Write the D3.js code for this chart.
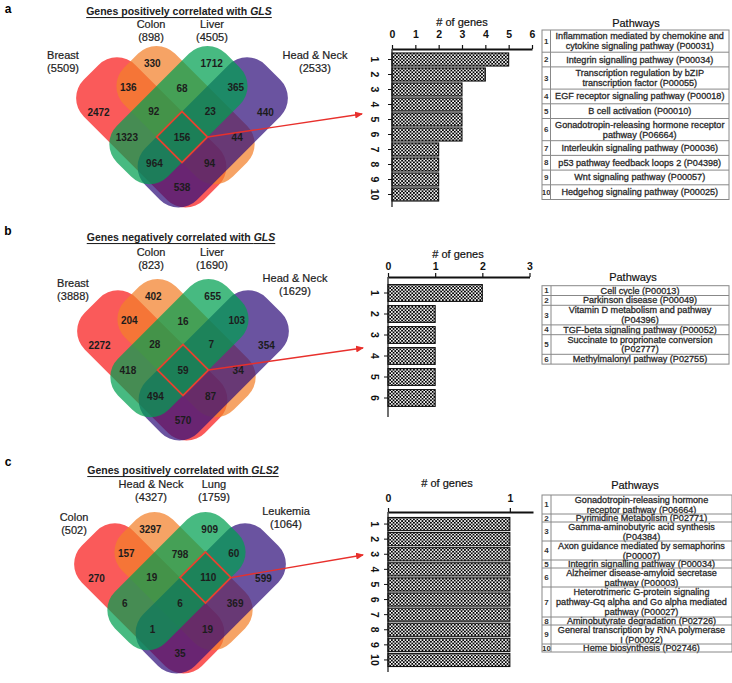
<!DOCTYPE html>
<html>
<head>
<meta charset="utf-8">
<script src="https://cdn.jsdelivr.net/npm/d3@7"></script>
<style>
  body { margin: 0; background: #fff; }
  svg text { font-family: "Liberation Sans", Arial, sans-serif; }
</style>
</head>
<body>
<div id="fig"></div>
<script>
// ---- data ----
// region order: R, O, G, P, RO, OG, GP, RG, ROG, OGP, OP, ROGP, RGP, ROP, RP
const regionKeys = ["R", "O", "G", "P", "RO", "OG", "GP", "RG", "ROG", "OGP", "OP", "ROGP", "RGP", "ROP", "RP"];

const setsA = ["Breast", "Colon", "Liver", "Head & Neck"];
const totalsA = [5509, 898, 4505, 2533];
const regionsA = [2472, 330, 1712, 440, 136, 68, 365, 1323, 92, 23, 44, 156, 964, 94, 538];
const countsA = [5, 4, 3, 3, 3, 3, 2, 2, 2, 2];
const pathwaysA = [
  "Inflammation mediated by chemokine and\ncytokine signaling pathway (P00031)",
  "Integrin signalling pathway (P00034)",
  "Transcription regulation by bZIP\ntranscription factor (P00055)",
  "EGF receptor signaling pathway (P00018)",
  "B cell activation (P00010)",
  "Gonadotropin-releasing hormone receptor\npathway (P06664)",
  "Interleukin signaling pathway (P00036)",
  "p53 pathway feedback loops 2 (P04398)",
  "Wnt signaling pathway (P00057)",
  "Hedgehog signaling pathway (P00025)"
];

const setsB = ["Breast", "Colon", "Liver", "Head & Neck"];
const totalsB = [3888, 823, 1690, 1629];
const regionsB = [2272, 402, 655, 354, 204, 16, 103, 418, 28, 7, 34, 59, 494, 87, 570];
const countsB = [2, 1, 1, 1, 1, 1];
const pathwaysB = [
  "Cell cycle (P00013)",
  "Parkinson disease (P00049)",
  "Vitamin D metabolism and pathway\n(P04396)",
  "TGF-beta signaling pathway (P00052)",
  "Succinate to proprionate conversion\n(P02777)",
  "Methylmalonyl pathway (P02755)"
];

const setsC = ["Colon", "Head & Neck", "Lung", "Leukemia"];
const totalsC = [502, 4327, 1759, 1064];
const regionsC = [270, 3297, 909, 599, 157, 798, 60, 6, 19, 110, 369, 6, 1, 19, 35];
const countsC = [1, 1, 1, 1, 1, 1, 1, 1, 1, 1];
const pathwaysC = [
  "Gonadotropin-releasing hormone\nreceptor pathway (P06664)",
  "Pyrimidine Metabolism (P02771)",
  "Gamma-aminobutyric acid synthesis\n(P04384)",
  "Axon guidance mediated by semaphorins\n(P00007)",
  "Integrin signalling pathway (P00034)",
  "Alzheimer disease-amyloid secretase\npathway (P00003)",
  "Heterotrimeric G-protein signaling\npathway-Gq alpha and Go alpha mediated\npathway (P00027)",
  "Aminobutyrate degradation (P02726)",
  "General transcription by RNA polymerase\nI (P00022)",
  "Heme biosynthesis (P02746)"
];

// ---- venn geometry (rotated frame: p runs down-right, q runs up-right) ----
const shapes = [
  {key: "R", p: [-110, 60], q: [-55, 18], color: "#f81a1a"},
  {key: "O", p: [-90, 64], q: [-18, 54], color: "#f2802a"},
  {key: "P", p: [-18, 55], q: [-60, 110], color: "#30117b"},
  {key: "G", p: [-54, 18], q: [-64, 90], color: "#00a050"}
];
const labelPQ = {
  R: [-76, -42], O: [-73, 31], G: [-31, 73], P: [42, 76],
  RO: [-73, -3], OG: [-34, 34], GP: [3, 73], RG: [-39, -39],
  ROG: [-38, -2], OGP: [2, 38], OP: [39, 39], ROGP: [0, 0],
  RGP: [-1, -38], ROP: [38, 1], RP: [36, -36]
};
const cellPQ = {ROGP: {p: [-18, 18], q: [-18, 18]}, OGP: {p: [-18, 18], q: [18, 54]}};

const panels = [
  {
    letter: "a", letterPos: [8, 9], title: ["Genes positively correlated with ", "GLS"], titlePos: [179, 11],
    venn: {cx: 182, cy: 137}, sets: setsA, totals: totalsA, regions: regionsA, highlight: "ROGP",
    setPos: [[-119, -82], [-31, -113], [30, -113], [133, -82]],
    bars: {x0: 392, x1: 532, xMax: 6, ticks: [0, 1, 2, 3, 4, 5, 6], axisY: 49, yTop: 52, yBot: 202, yEnd: 207,
           pad: 0.13, tickPad: 7, labelOff: 17, titleX: 462, titleY: 22},
    counts: countsA, pathways: pathwaysA,
    table: {x0: 542, x1: 729, numW: 8.5, y0: 30, base: 14.7, extra: 7.5, ls: 10, headX: 636, headY: 23},
    arrowEnd: [362, 114]
  },
  {
    letter: "b", letterPos: [8, 231], title: ["Genes negatively correlated with ", "GLS"], titlePos: [181, 237],
    venn: {cx: 183, cy: 370}, sets: setsB, totals: totalsB, regions: regionsB, highlight: "ROGP",
    setPos: [[-110, -87], [-32, -118], [29, -118], [112, -92]],
    bars: {x0: 388, x1: 529.5, xMax: 3, ticks: [0, 1, 2, 3], axisY: 277, yTop: 282.5, yBot: 408.5, yEnd: 417,
           pad: 0.2, tickPad: 3, labelOff: 13, titleX: 458, titleY: 254},
    counts: countsB, pathways: pathwaysB,
    table: {x0: 542, x1: 729, numW: 9, y0: 285.7, base: 9.8, extra: 9.8, ls: 9.6, headX: 633, headY: 277},
    arrowEnd: [363, 348]
  },
  {
    letter: "c", letterPos: [8, 462], title: ["Genes positively correlated with ", "GLS2"], titlePos: [183, 470],
    venn: {cx: 180, cy: 603}, sets: setsC, totals: totalsC, regions: regionsC, highlight: "OGP",
    setPos: [[-106, -86], [-29, -119], [34, -119], [106, -92]],
    bars: {x0: 388, x1: 533, xMax: 1.19, ticks: [0, 1], axisY: 512, yTop: 516.5, yBot: 667.5, yEnd: 672,
           pad: 0.13, tickPad: 6, labelOff: 13, titleX: 447, titleY: 483},
    counts: countsC, pathways: pathwaysC,
    table: {x0: 542, x1: 732, numW: 9, y0: 495, base: 8, extra: 11, ls: 10, headX: 635, headY: 485},
    arrowEnd: [363, 555]
  }
];

const svg = d3.select("#fig").append("svg")
    .attr("width", 732)
    .attr("height", 683);

const defs = svg.append("defs");
const pat = defs.append("pattern")
    .attr("id", "checker")
    .attr("patternUnits", "userSpaceOnUse")
    .attr("width", 3.4).attr("height", 3.4);
pat.append("rect").attr("width", 3.4).attr("height", 3.4).attr("fill", "#fff");
pat.append("rect").attr("width", 1.8).attr("height", 1.8).attr("fill", "#000");
pat.append("rect").attr("x", 1.7).attr("y", 1.7).attr("width", 1.8).attr("height", 1.8).attr("fill", "#000");

defs.append("marker")
    .attr("id", "arrow")
    .attr("markerUnits", "userSpaceOnUse")
    .attr("markerWidth", 8).attr("markerHeight", 7)
    .attr("refX", 7).attr("refY", 3.5)
    .attr("orient", "auto")
    .append("path")
    .attr("d", "M0,0 L8,3.5 L0,7 z")
    .attr("fill", "#e8302c");

const toXY = (p, q) => [(p + q) / Math.SQRT2, (p - q) / Math.SQRT2];

function drawVenn(pn) {
    const g = svg.append("g").attr("transform", "translate(" + pn.venn.cx + "," + pn.venn.cy + ")");
    const rot = g.append("g").attr("transform", "matrix(0.7071,0.7071,0.7071,-0.7071,0,0)");

    rot.selectAll("rect.set")
        .data(shapes)
        .enter().append("rect")
        .attr("class", "set")
        .attr("x", d => d.p[0])
        .attr("y", d => d.q[0])
        .attr("width", d => d.p[1] - d.p[0])
        .attr("height", d => d.q[1] - d.q[0])
        .attr("rx", 26)
        .attr("fill", d => d.color)
        .attr("fill-opacity", 0.72);

    // highlighted cell
    const c = cellPQ[pn.highlight];
    rot.append("rect")
        .attr("x", c.p[0]).attr("y", c.q[0])
        .attr("width", c.p[1] - c.p[0]).attr("height", c.q[1] - c.q[0])
        .attr("fill", "none")
        .attr("stroke", "#e8422f")
        .attr("stroke-width", 1.8);

    // region counts
    g.selectAll("text.region")
        .data(regionKeys)
        .enter().append("text")
        .attr("class", "region")
        .attr("x", k => toXY(labelPQ[k][0], labelPQ[k][1])[0])
        .attr("y", k => toXY(labelPQ[k][0], labelPQ[k][1])[1])
        .attr("text-anchor", "middle")
        .attr("dominant-baseline", "central")
        .attr("font-size", 10)
        .attr("font-weight", "bold")
        .attr("fill", "#1c1c1c")
        .text((k, i) => pn.regions[i]);

    // set names
    pn.sets.forEach(function(s, i) {
        const pos = pn.setPos[i];
        const t = g.append("text")
            .attr("text-anchor", "middle")
            .attr("font-size", 11)
            .attr("fill", "#222")
            .attr("stroke", "#222")
            .attr("stroke-width", 0.2);
        t.append("tspan").attr("x", pos[0]).attr("y", pos[1] + 4).text(s);
        t.append("tspan").attr("x", pos[0]).attr("y", pos[1] + 17).text("(" + pn.totals[i] + ")");
    });

    // arrow from cell corner to bar chart
    const corner = toXY(c.p[1], c.q[1]);
    svg.append("line")
        .attr("x1", pn.venn.cx + corner[0])
        .attr("y1", pn.venn.cy + corner[1])
        .attr("x2", pn.arrowEnd[0])
        .attr("y2", pn.arrowEnd[1])
        .attr("stroke", "#e8302c")
        .attr("stroke-width", 1.3)
        .attr("marker-end", "url(#arrow)");
}

function drawBars(pn) {
    const b = pn.bars;
    const g = svg.append("g");

    const x = d3.scaleLinear()
        .domain([0, b.xMax])
        .range([b.x0, b.x1]);

    const y = d3.scaleBand()
        .domain(pn.counts.map((d, i) => i + 1))
        .range([b.yTop, b.yBot])
        .paddingInner(b.pad)
        .paddingOuter(b.pad / 2);

    g.selectAll("rect.bar")
        .data(pn.counts)
        .enter().append("rect")
        .attr("class", "bar")
        .attr("x", x(0))
        .attr("y", (d, i) => y(i + 1))
        .attr("width", d => x(d) - x(0))
        .attr("height", y.bandwidth())
        .attr("fill", "url(#checker)")
        .attr("stroke", "#111")
        .attr("stroke-width", 1.1);

    const xAxis = d3.axisTop(x)
        .tickValues(b.ticks)
        .tickSize(4)
        .tickSizeOuter(0)
        .tickPadding(b.tickPad)
        .tickFormat(d3.format("d"));

    const xg = g.append("g")
        .attr("transform", "translate(0," + b.axisY + ")")
        .call(xAxis);
    xg.select(".domain").attr("stroke", "#111").attr("stroke-width", 2);
    xg.selectAll(".tick line").attr("stroke", "#111").attr("stroke-width", 1.2);
    xg.selectAll(".tick text")
        .attr("font-size", 10.5)
        .attr("font-weight", "bold")
        .attr("fill", "#111")
        .style("font-family", "'Liberation Sans', Arial, sans-serif");

    const yAxis = d3.axisLeft(y)
        .tickSize(4)
        .tickSizeOuter(0);
    const yg = g.append("g")
        .attr("transform", "translate(" + b.x0 + ",0)")
        .call(yAxis);
    yg.select(".domain").remove();
    yg.selectAll(".tick line").attr("stroke", "#111").attr("stroke-width", 1);
    yg.selectAll(".tick text")
        .attr("x", null).attr("dy", null)
        .attr("transform", "translate(" + (-b.labelOff) + ",0) rotate(90)")
        .attr("text-anchor", "middle")
        .attr("dominant-baseline", "central")
        .attr("font-size", 10.5)
        .attr("font-weight", "bold")
        .attr("fill", "#111")
        .style("font-family", "'Liberation Sans', Arial, sans-serif");

    g.append("line")
        .attr("x1", b.x0).attr("x2", b.x0)
        .attr("y1", b.axisY).attr("y2", b.yEnd)
        .attr("stroke", "#111")
        .attr("stroke-width", 1.2);

    g.append("text")
        .attr("x", b.titleX)
        .attr("y", b.titleY)
        .attr("text-anchor", "middle")
        .attr("dominant-baseline", "central")
        .attr("font-size", 11)
        .attr("fill", "#111")
        .attr("stroke", "#111")
        .attr("stroke-width", 0.2)
        .text("# of genes");
}

function drawTable(pn) {
    const t = pn.table;
    const g = svg.append("g");

    g.append("text")
        .attr("x", t.headX).attr("y", t.headY)
        .attr("text-anchor", "middle")
        .attr("dominant-baseline", "central")
        .attr("font-size", 11)
        .attr("fill", "#111")
        .attr("stroke", "#111")
        .attr("stroke-width", 0.2)
        .text("Pathways");

    let yy = t.y0;
    const rows = pn.pathways.map(function(s, i) {
        const lines = s.split("\n");
        const h = t.base + (lines.length - 1) * t.extra;
        const r = {n: i + 1, lines: lines, y: yy, h: h};
        yy += h;
        return r;
    });

    rows.forEach(function(r, i) {
        if (i > 0) {
            g.append("line")
                .attr("x1", t.x0).attr("x2", t.x1)
                .attr("y1", r.y).attr("y2", r.y)
                .attr("stroke", "#888").attr("stroke-width", 1);
        }
        const cy = r.y + r.h / 2;
        g.append("text")
            .attr("x", t.x0 + t.numW / 2)
            .attr("y", cy)
            .attr("text-anchor", "middle")
            .attr("dominant-baseline", "central")
            .attr("font-size", 8)
            .attr("font-weight", "bold")
            .attr("fill", "#333")
            .text(r.n);
        const tx = (t.x0 + t.numW + t.x1) / 2;
        const txt = g.append("text")
            .attr("text-anchor", "middle")
            .attr("dominant-baseline", "central")
            .attr("font-size", 9.1)
            .attr("fill", "#2a2a2a")
            .attr("stroke", "#2a2a2a")
            .attr("stroke-width", 0.3);
        r.lines.forEach(function(l, j) {
            txt.append("tspan")
                .attr("x", tx)
                .attr("y", cy + (j - (r.lines.length - 1) / 2) * t.ls)
                .text(l);
        });
    });

    g.append("line")
        .attr("x1", t.x0 + t.numW).attr("x2", t.x0 + t.numW)
        .attr("y1", t.y0).attr("y2", yy)
        .attr("stroke", "#888").attr("stroke-width", 1);
    g.append("rect")
        .attr("x", t.x0).attr("y", t.y0)
        .attr("width", t.x1 - t.x0).attr("height", yy - t.y0)
        .attr("fill", "none")
        .attr("stroke", "#888").attr("stroke-width", 1);
}

panels.forEach(function(pn) {
    svg.append("text")
        .attr("x", pn.letterPos[0]).attr("y", pn.letterPos[1])
        .attr("text-anchor", "middle")
        .attr("dominant-baseline", "central")
        .attr("font-size", 12)
        .attr("font-weight", "bold")
        .text(pn.letter);

    const title = svg.append("text")
        .attr("x", pn.titlePos[0]).attr("y", pn.titlePos[1])
        .attr("text-anchor", "middle")
        .attr("dominant-baseline", "central")
        .attr("font-size", 10.5)
        .attr("font-weight", "bold")
        .attr("fill", "#222")
        .attr("text-decoration", "underline");
    title.append("tspan").text(pn.title[0]);
    title.append("tspan").attr("font-style", "italic").text(pn.title[1]);

    drawVenn(pn);
    drawBars(pn);
    drawTable(pn);
});
</script>
</body>
</html>
